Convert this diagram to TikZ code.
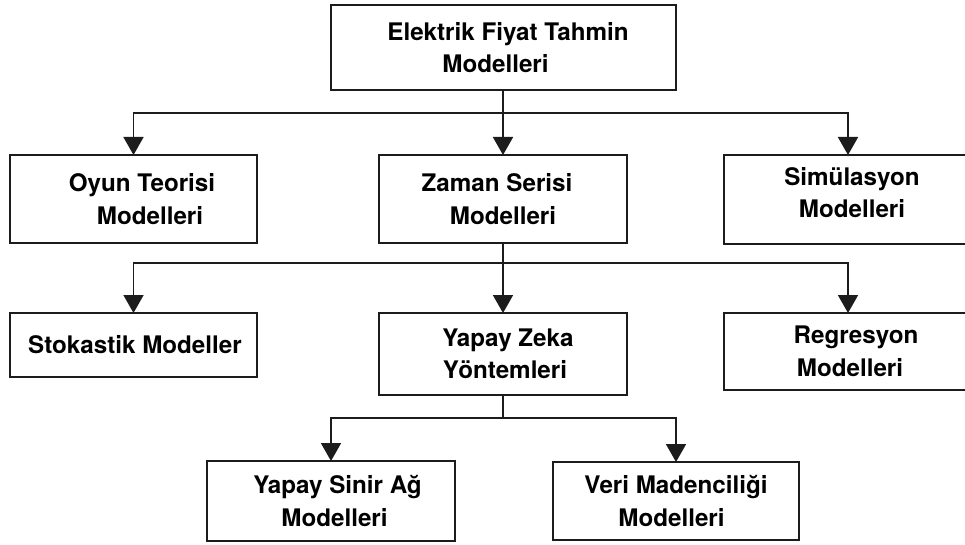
\documentclass[tikz,border=0pt]{standalone}
\usepackage{fontspec}
\setmainfont{TeX Gyre Heros}
\usetikzlibrary{arrows.meta}
\definecolor{ln}{HTML}{1C1C1C}
\tikzset{
  txt/.style={align=center, font=\fontsize{24.2}{32.5}\selectfont\bfseries, text=black},
  box/.style={draw=ln, line width=2pt, fill=white, outer sep=0pt, inner sep=0pt, txt},
  conn/.style={draw=ln, line width=1.8pt},
  arr/.style={conn, -{Triangle[width=20pt,length=18pt]}}
}
\begin{document}
\begin{tikzpicture}[x=1pt,y=-1pt]
\useasboundingbox (0,0) rectangle (965,545);
\begin{scope}
\clip (0,0) rectangle (965,545);
\node[box, minimum width=345pt, minimum height=85pt] (top) at (503,47.5) {\hspace*{10pt}Elektrik Fiyat Tahmin\\Modelleri\hspace*{15pt}};
\node[box, minimum width=247pt, minimum height=88pt] (oyun) at (133.5,199) {\hspace*{17pt}Oyun Teorisi\\\hspace*{33pt}Modelleri};
\node[box, minimum width=248pt, minimum height=88pt] (zaman) at (503,199) {Zaman Serisi\hspace*{12pt}\\Modelleri};
\node[box, minimum width=248pt, minimum height=89pt,
  label={[txt, xshift=4pt, yshift=7pt]center:Simülasyon\\Modelleri}] (sim) at (848,199.5) {};
\node[box, minimum width=247pt, minimum height=64pt] (stok) at (133.5,345) {\hspace*{3pt}Stokastik Modeller};
\node[box, minimum width=248pt, minimum height=82pt] (yz) at (503,354) {\hspace*{10pt}Yapay Zeka\\\hspace*{4pt}Yöntemleri};
\node[box, minimum width=248pt, minimum height=77pt] (reg) at (848,351.5) {\hspace*{16pt}Regresyon\\\hspace*{4pt}Modelleri};
\node[box, minimum width=248pt, minimum height=80pt] (ysa) at (331,501) {\hspace*{13pt}Yapay Sinir Ağ\\\hspace*{7pt}Modelleri};
\node[box, minimum width=246pt, minimum height=78pt] (veri) at (676,501) {Veri Madenciliği\\Modelleri\hspace*{9pt}};

\coordinate (j1) at (503,113);
\coordinate (j2) at (503,263);
\coordinate (j3) at (503,418);

\draw[conn] (top.south) -- (j1);
\draw[arr] (j1) -- (zaman.north);
\draw[arr] (j1) -| (oyun.north);
\draw[arr] (j1) -| (sim.north);

\draw[conn] (zaman.south) -- (j2);
\draw[arr] (j2) -- (yz.north);
\draw[arr] (j2) -| (stok.north);
\draw[arr] (j2) -| (reg.north);

\draw[conn] (yz.south) -- (j3);
\draw[arr] (j3) -| (ysa.north);
\draw[arr] (j3) -| (veri.north);
\end{scope}
\end{tikzpicture}
\end{document}
